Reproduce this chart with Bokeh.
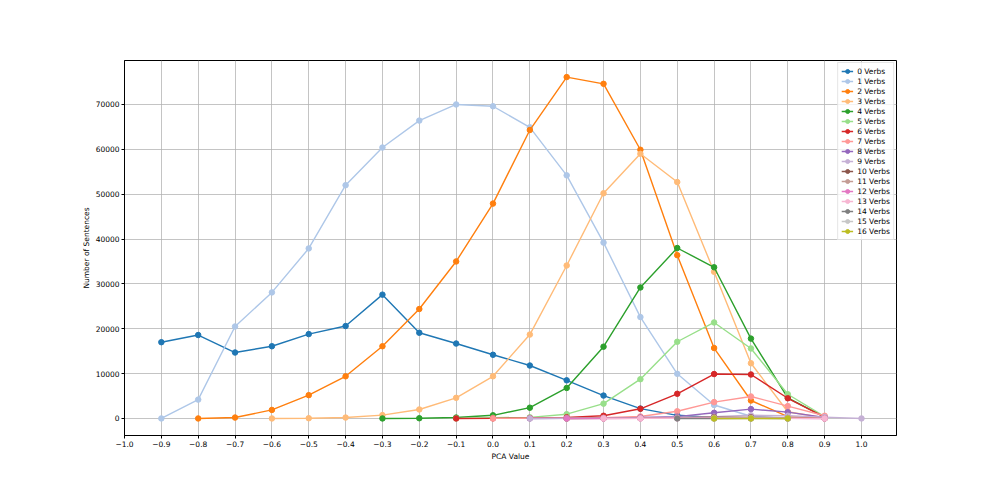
from bokeh.plotting import figure
from bokeh.models import Range1d, FixedTicker, BasicTickFormatter
from bokeh.embed import file_html
from bokeh.resources import INLINE

# ---- data ----
pca_values = [-0.9, -0.8, -0.7, -0.6, -0.5, -0.4, -0.3, -0.2, -0.1, 0.0,
              0.1, 0.2, 0.3, 0.4, 0.5, 0.6, 0.7, 0.8, 0.9, 1.0]

series_names = [f"{i} Verbs" for i in range(17)]
series_colors = ["#1f77b4", "#aec7e8", "#ff7f0e", "#ffbb78", "#2ca02c", "#98df8a",
                 "#d62728", "#ff9896", "#9467bd", "#c5b0d5", "#8c564b", "#c49c94",
                 "#e377c2", "#f7b6d2", "#7f7f7f", "#c7c7c7", "#bcbd22"]

# first PCA value of each series
series_start = [-0.9, -0.9, -0.8, -0.6, -0.3, -0.1, -0.1, 0.0, 0.1, 0.1,
                0.2, 0.2, 0.2, 0.3, 0.5, 0.6, 0.6]

verbs_0 = [17000, 18600, 14700, 16100, 18800, 20600, 27600, 19100, 16700, 14200,
           11800, 8500, 5100, 2200, 700, 200, 60, 10]
verbs_1 = [0, 4200, 20500, 28100, 37900, 52000, 60400, 66400, 70000, 69600,
           64900, 54200, 39200, 22600, 9950, 3000, 500, 100, 20]
verbs_2 = [0, 200, 1900, 5200, 9400, 16100, 24400, 35000, 47900, 64300,
           76100, 74600, 59900, 36400, 15700, 4000, 400, 30]
verbs_3 = [0, 50, 200, 750, 2000, 4600, 9400, 18700, 34100, 50200,
           59000, 52700, 32700, 12300, 1500, 100]
verbs_4 = [0, 50, 200, 700, 2400, 6800, 16000, 29200, 38000, 33700, 17800, 4600, 300]
verbs_5 = [10, 150, 250, 950, 3300, 8750, 17100, 21400, 15600, 5400, 400]
verbs_6 = [0, 20, 100, 250, 600, 2150, 5500, 9900, 9800, 4500, 300]
verbs_7 = [10, 40, 100, 150, 450, 1600, 3650, 4900, 2750, 600]
verbs_8 = [5, 20, 60, 200, 400, 1260, 2080, 1400, 200]
verbs_9 = [0, 10, 30, 80, 200, 400, 700, 600, 300, 0]
verbs_10 = [0, 10, 50, 150, 300, 250, 100, 20]
verbs_11 = [0, 10, 40, 100, 200, 150, 50, 10]
verbs_12 = [0, 5, 20, 50, 100, 80, 30, 5]
verbs_13 = [0, 10, 30, 50, 40, 20, 5]
verbs_14 = [0, 5, 10, 5]
verbs_15 = [0, 5, 0]
verbs_16 = [0, 0, 0]

series_values = [verbs_0, verbs_1, verbs_2, verbs_3, verbs_4, verbs_5, verbs_6,
                 verbs_7, verbs_8, verbs_9, verbs_10, verbs_11, verbs_12, verbs_13,
                 verbs_14, verbs_15, verbs_16]

x_ticks = [-1.0, -0.9, -0.8, -0.7, -0.6, -0.5, -0.4, -0.3, -0.2, -0.1, 0.0,
           0.1, 0.2, 0.3, 0.4, 0.5, 0.6, 0.7, 0.8, 0.9, 1.0]
y_ticks = [0, 10000, 20000, 30000, 40000, 50000, 60000, 70000]

FONT = "DejaVu Sans"

p = figure(frame_width=772, frame_height=375,
           x_range=Range1d(-1.0, 1.095), y_range=Range1d(-3800, 79800),
           output_backend="svg", toolbar_location=None,
           min_border_left=124, min_border_right=90,
           min_border_top=60, min_border_bottom=55)

p.background_fill_color = "white"
p.border_fill_color = "white"
p.outline_line_color = "black"
p.outline_line_width = 1

for name, color, start, vals in zip(series_names, series_colors, series_start, series_values):
    i0 = pca_values.index(start)
    xs = pca_values[i0:i0 + len(vals)]
    p.line(xs, vals, line_color=color, line_width=1.4, legend_label=name)
    p.scatter(xs, vals, marker="circle", size=5.5, fill_color=color, line_color=color,
              legend_label=name)

# grid
for g in (p.xgrid, p.ygrid):
    g.grid_line_color = "#b0b0b0"
    g.grid_line_alpha = 0.75
    g.grid_line_width = 1
p.xgrid.ticker = FixedTicker(ticks=x_ticks)
p.ygrid.ticker = FixedTicker(ticks=y_ticks)

# axes
p.xaxis.ticker = FixedTicker(ticks=x_ticks)
p.xaxis.major_label_overrides = {t: (f"{t:.1f}".replace("-", "\u2212")) for t in x_ticks}
p.yaxis.ticker = FixedTicker(ticks=y_ticks)
p.yaxis.formatter = BasicTickFormatter(use_scientific=False)

for ax in (p.xaxis, p.yaxis):
    ax.axis_line_color = "black"
    ax.major_tick_line_color = "black"
    ax.major_tick_in = 0
    ax.major_tick_out = 3
    ax.minor_tick_line_color = None
    ax.major_label_text_font = FONT
    ax.major_label_text_font_size = "7.5px"
    ax.major_label_text_color = "black"
    ax.axis_label_text_font = FONT
    ax.axis_label_text_font_size = "7.5px"
    ax.axis_label_text_font_style = "normal"
    ax.axis_label_text_color = "black"
    ax.major_label_standoff = 2
    ax.axis_label_standoff = 2

p.xaxis.axis_label = "PCA Value"
p.yaxis.axis_label = "Number of Sentences"

# legend
lg = p.legend[0]
lg.location = "top_right"
lg.margin = 2
lg.padding = 3
lg.spacing = 0
lg.label_height = 10
lg.glyph_height = 10
lg.glyph_width = 12
lg.label_standoff = 4
lg.label_text_font = FONT
lg.label_text_font_size = "7.5px"
lg.label_text_color = "black"
lg.border_line_color = "#cccccc"
lg.border_line_width = 1
lg.background_fill_alpha = 0.8

open("out.html", "w").write(file_html(p, INLINE))
